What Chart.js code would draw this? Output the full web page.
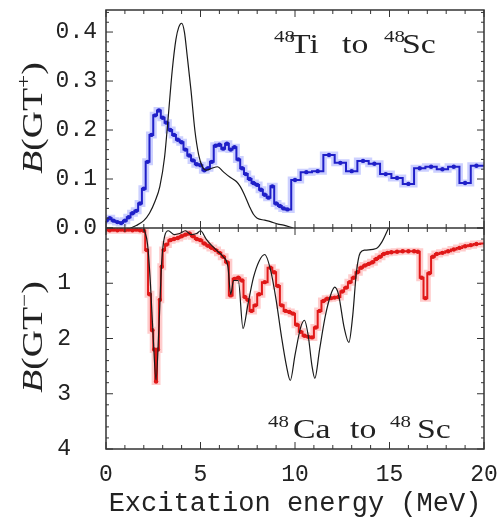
<!DOCTYPE html>
<html>
<head>
<meta charset="utf-8">
<script src="https://cdn.jsdelivr.net/npm/chart.js@4"></script>
<style>
  html, body { margin: 0; padding: 0; background: #fff; }
  #myChart { display: block; }
</style>
</head>
<body>
<canvas id="myChart" width="504" height="522"></canvas>
<script>
'use strict';

// 48Ti -> 48Sc, B(GT+) (blue histogram)
let blueE = [0, 0.2, 0.4, 0.6, 0.8, 1.0, 1.2, 1.4, 1.6, 1.8, 2.0, 2.2, 2.4, 2.6, 2.8, 3.0, 3.2, 3.4, 3.6, 3.8,
  4.0, 4.2, 4.4, 4.6, 4.8, 5.0, 5.2, 5.4, 5.6, 5.8, 6.0, 6.2, 6.4, 6.6, 6.8, 7.0, 7.2, 7.4, 7.6, 7.8,
  8.0, 8.2, 8.4, 8.6, 8.8, 9.0, 9.2, 9.4, 9.6,
  10.0, 10.6, 11.2, 11.8, 12.4, 13.0, 13.6, 14.2, 14.8, 15.4, 16.0, 16.6, 17.2, 17.8, 18.4, 19.0, 19.6, 20.0];
let blueB = [0.015, 0.02, 0.015, 0.012, 0.01, 0.015, 0.022, 0.03, 0.035, 0.05, 0.08, 0.135, 0.19, 0.23, 0.24, 0.225, 0.215, 0.2, 0.19, 0.18,
  0.175, 0.16, 0.148, 0.138, 0.13, 0.128, 0.118, 0.122, 0.135, 0.168, 0.17, 0.162, 0.172, 0.16, 0.165, 0.14, 0.122, 0.11, 0.1, 0.092,
  0.088, 0.078, 0.068, 0.062, 0.085, 0.05, 0.045, 0.04, 0.038,
  0.098, 0.114, 0.116, 0.149, 0.133, 0.116, 0.137, 0.131, 0.11, 0.102, 0.09, 0.122, 0.125, 0.12, 0.125, 0.092, 0.127, 0.127];

// shell model curve, top panel
let calcTopE = [1.3, 1.6, 2.0, 2.3, 2.6, 2.85, 3.1, 3.3, 3.5, 3.7, 3.85, 4.0, 4.15, 4.3, 4.5, 4.7, 4.9, 5.1, 5.3, 5.6,
  5.9, 6.2, 6.55, 6.9, 7.1, 7.3, 7.6, 7.8, 8.0, 8.4, 8.7, 9.1, 9.4, 9.9];
let calcTopB = [0, 0.005, 0.015, 0.03, 0.055, 0.085, 0.145, 0.23, 0.32, 0.385, 0.41, 0.418, 0.4, 0.35, 0.28, 0.2, 0.15, 0.125, 0.118, 0.122,
  0.125, 0.115, 0.104, 0.095, 0.085, 0.07, 0.043, 0.028, 0.02, 0.016, 0.013, 0.008, 0.006, 0];

// 48Ca -> 48Sc, B(GT-) (red histogram)
let redE = [0, 0.2, 0.4, 0.6, 0.8, 1.0, 1.2, 1.4, 1.6, 1.8, 2.0, 2.15, 2.3, 2.45, 2.55, 2.65, 2.75, 2.85, 2.95, 3.05,
  3.2, 3.4, 3.6, 3.8, 4.0, 4.2, 4.4, 4.6, 4.8, 5.0, 5.2, 5.4, 5.6, 5.8, 6.0, 6.2, 6.4, 6.6, 6.8, 7.0,
  7.2, 7.35, 7.5, 7.7, 7.9, 8.1, 8.4, 8.7, 8.9, 9.1, 9.3, 9.5, 9.7, 9.9, 10.1, 10.3, 10.5, 10.7, 10.9, 11.1,
  11.3, 11.5, 11.7, 11.9, 12.1, 12.3, 12.5, 12.7, 12.9, 13.1, 13.3, 13.5, 13.7, 13.9, 14.1, 14.3, 14.5, 14.7, 14.9, 15.1,
  15.4, 15.7, 16.0, 16.3, 16.5, 16.7, 16.9, 17.1, 17.3, 17.5, 17.8, 18.1, 18.4, 18.7, 19.0, 19.3, 19.6, 20.0];
let redB = [0.03, 0.04, 0.03, 0.04, 0.03, 0.04, 0.03, 0.04, 0.03, 0.04, 0.05, 0.4, 1.2, 1.85, 2.2, 2.78, 2.2, 1.3, 0.7, 0.4,
  0.3, 0.22, 0.2, 0.18, 0.15, 0.12, 0.1, 0.15, 0.2, 0.22, 0.28, 0.32, 0.36, 0.4, 0.45, 0.52, 0.62, 1.22, 0.92, 0.9,
  0.95, 1.25, 1.3, 1.5, 1.4, 1.2, 0.98, 0.72, 0.8, 1.05, 1.4, 1.5, 1.52, 1.55, 1.75, 1.88, 1.95, 1.97, 1.98, 1.8,
  1.5, 1.32, 1.28, 1.27, 1.26, 1.25, 1.15, 1.08, 0.98, 0.9, 0.8, 0.72, 0.68, 0.65, 0.62, 0.56, 0.52, 0.47, 0.45, 0.44,
  0.43, 0.42, 0.42, 0.42, 0.43, 0.9, 1.27, 0.82, 0.52, 0.47, 0.45, 0.42, 0.39, 0.36, 0.33, 0.31, 0.29, 0.28];

// shell model curve, bottom panel (runs a little past the zero line at the end)
let calcBotE = [2.0, 2.2, 2.35, 2.5, 2.65, 2.8, 2.95, 3.1, 3.3, 3.6, 3.9, 4.2, 4.5, 4.8, 5.0, 5.3, 5.6, 5.9, 6.2, 6.45,
  6.6, 6.75, 7.0, 7.25, 7.5, 7.8, 8.1, 8.4, 8.7, 9.0, 9.3, 9.55, 9.75, 10.0, 10.3, 10.5, 10.7, 10.9, 11.05, 11.3,
  11.6, 11.9, 12.1, 12.3, 12.6, 12.85, 13.05, 13.25, 13.45, 13.7, 14.3, 14.6, 14.95, 15.2];
let calcBotB = [0, 0.3, 1.0, 2.0, 2.75, 1.8, 0.6, 0.15, 0.05, 0.12, 0.1, 0.05, 0.12, 0.1, 0.05, 0.2, 0.32, 0.42, 0.52, 0.7,
  1.2, 0.95, 0.95, 1.82, 1.4, 0.9, 0.6, 0.48, 0.75, 1.3, 2.0, 2.5, 2.76, 2.3, 1.8, 1.67, 1.95, 2.5, 2.72, 2.2,
  1.6, 1.2, 1.07, 1.2, 1.8, 2.07, 1.6, 0.8, 0.45, 0.4, 0.37, 0.25, 0, -0.18];

let xTicks = [0, 5, 10, 15, 20];
let topTicks = [0.0, 0.1, 0.2, 0.3, 0.4];
let botTicks = [1, 2, 3, 4];

function pts(xs, ys) {
  let out = [];
  for (let i = 0; i < xs.length; i++) {
    out.push({ x: xs[i], y: ys[i] });
  }
  return out;
}

let monoFont = 'Liberation Mono';
let serifFont = 'Liberation Serif';

// draw a run of text pieces: [text, style] where style is 'i' italic, 's' superscript
function drawRuns(ctx, runs, x, y, size) {
  let cx = x;
  for (let i = 0; i < runs.length; i++) {
    let t = runs[i][0];
    let st = runs[i][1];
    let fs = st === 's' ? size * 0.62 : size;
    ctx.font = (st === 'i' ? 'italic ' : '') + fs + 'px "' + serifFont + '"';
    ctx.fillText(t, cx, st === 's' ? y - size * 0.4 : y);
    cx += ctx.measureText(t).width;
  }
  return cx - x;
}
function runsWidth(ctx, runs, size) {
  let w = 0;
  for (let i = 0; i < runs.length; i++) {
    let fs = runs[i][1] === 's' ? size * 0.62 : size;
    ctx.font = (runs[i][1] === 'i' ? 'italic ' : '') + fs + 'px "' + serifFont + '"';
    w += ctx.measureText(runs[i][0]).width;
  }
  return w;
}

// scales should not push the plot area around
function fixY(s) {
  s.width = 106;
  s.paddingTop = 0;
  s.paddingBottom = 0;
}

const frameTicks = {
  id: 'frameTicks',
  afterDatasetsDraw(chart) {
    const ctx = chart.ctx;
    const a = chart.chartArea;
    const xs = chart.scales.x;
    const yt = chart.scales.yTop;
    const yb = chart.scales.yBot;
    const mid = yb.top;
    ctx.save();
    ctx.strokeStyle = '#333';
    ctx.lineWidth = 1;
    ctx.beginPath();
    for (let v = 0; v <= 20; v++) {
      const px = xs.getPixelForValue(v);
      const len = v % 5 === 0 ? 7 : 4;
      ctx.moveTo(px, a.top); ctx.lineTo(px, a.top + len);
      ctx.moveTo(px, mid - len); ctx.lineTo(px, mid + len);
      ctx.moveTo(px, a.bottom); ctx.lineTo(px, a.bottom - len);
    }
    for (let k = 0; k <= 22; k++) {
      const py = yt.getPixelForValue(k * 0.02);
      const len = k % 5 === 0 ? 7 : 3;
      ctx.moveTo(a.left, py); ctx.lineTo(a.left + len, py);
      ctx.moveTo(a.right, py); ctx.lineTo(a.right - len, py);
    }
    for (let k = 0; k <= 20; k++) {
      const py = yb.getPixelForValue(k * 0.2);
      const len = k % 5 === 0 ? 7 : 3;
      ctx.moveTo(a.left, py); ctx.lineTo(a.left + len, py);
      ctx.moveTo(a.right, py); ctx.lineTo(a.right - len, py);
    }
    ctx.stroke();
    ctx.lineWidth = 1.5;
    ctx.strokeRect(a.left, a.top, a.right - a.left, a.bottom - a.top);
    ctx.beginPath();
    ctx.moveTo(a.left, mid); ctx.lineTo(a.right, mid);
    ctx.stroke();

    // axis titles, wide serif like the original plotting font
    ctx.fillStyle = '#222';
    ctx.textBaseline = 'alphabetic';
    const size = 29;
    const stretch = 1.3;
    const titles = [
      [[['B', 'i'], ['(GT', ''], ['+', 's'], [')', '']], 118],
      [[['B', 'i'], ['(GT', ''], ['\u2212', 's'], [')', '']], 337]
    ];
    titles.forEach(function (tt) {
      const w = runsWidth(ctx, tt[0], size) * stretch;
      ctx.save();
      ctx.translate(42, tt[1]);
      ctx.rotate(-Math.PI / 2);
      ctx.translate(-w / 2, 0);
      ctx.scale(stretch, 1);
      drawRuns(ctx, tt[0], 0, 0, size);
      ctx.restore();
    });

    // reaction labels
    const lsize = 27;
    const labels = [
      [[['48', 's', 274], ['Ti', '', 290], ['to', '', 342], ['48', 's', 384], ['Sc', '', 402]], 53],
      [[['48', 's', 268], ['Ca', '', 293], ['to', '', 350], ['48', 's', 390], ['Sc', '', 417]], 438]
    ];
    labels.forEach(function (lb) {
      lb[0].forEach(function (p) {
        ctx.save();
        ctx.translate(p[2], lb[1]);
        ctx.scale(1.25, 1);
        drawRuns(ctx, [[p[0], p[1]]], 0, 0, lsize);
        ctx.restore();
      });
    });
    ctx.restore();
  }
};

const ctx = document.getElementById('myChart').getContext('2d');
const tickFont = { family: monoFont, size: 23 };

const myChart = new Chart(ctx, {
  type: 'line',
  data: {
    datasets: [
      {
        label: 'calc GT+',
        data: pts(calcTopE, calcTopB),
        yAxisID: 'yTop',
        borderColor: '#1a1a1a',
        borderWidth: 1.2,
        pointRadius: 0,
        cubicInterpolationMode: 'monotone',
        order: 0
      },
      {
        label: 'calc GT-',
        data: pts(calcBotE, calcBotB),
        yAxisID: 'yBot',
        borderColor: '#1a1a1a',
        borderWidth: 1.2,
        pointRadius: 0,
        cubicInterpolationMode: 'monotone',
        order: 0
      },
      {
        label: '48Ti',
        data: pts(blueE, blueB),
        yAxisID: 'yTop',
        borderColor: '#1f1fc8',
        backgroundColor: '#1f1fc8',
        borderWidth: 2,
        stepped: 'middle',
        pointRadius: function (c) { return c.raw && c.raw.x >= 20 ? 0 : 2.2; },
        pointBorderWidth: 0,
        order: 1
      },
      {
        label: '48Ca',
        data: pts(redE, redB),
        yAxisID: 'yBot',
        borderColor: '#e01818',
        backgroundColor: '#e01818',
        borderWidth: 2,
        stepped: 'middle',
        pointRadius: function (c) { return c.raw && c.raw.x >= 20 ? 0 : 2.2; },
        pointBorderWidth: 0,
        order: 1
      },
      {
        label: 'halo blue',
        data: pts(blueE, blueB),
        yAxisID: 'yTop',
        borderColor: 'rgba(110, 120, 255, 0.35)',
        borderWidth: 7,
        stepped: 'middle',
        pointRadius: 0,
        order: 2
      },
      {
        label: 'halo red',
        data: pts(redE, redB),
        yAxisID: 'yBot',
        borderColor: 'rgba(255, 110, 110, 0.35)',
        borderWidth: 7,
        stepped: 'middle',
        pointRadius: 0,
        order: 2
      }
    ]
  },
  options: {
    responsive: false,
    animation: false,
    layout: { autoPadding: false, padding: { top: 10, right: 20, left: 0, bottom: 0 } },
    plugins: {
      legend: { display: false },
      tooltip: { enabled: false }
    },
    scales: {
      x: {
        type: 'linear',
        min: 0,
        max: 20,
        afterBuildTicks: function (s) { s.ticks = xTicks.map(v => ({ value: v })); },
        ticks: { font: tickFont, color: '#222', padding: 12, maxRotation: 0 },
        grid: { display: false, drawTicks: false },
        border: { display: false },
        title: {
          display: true,
          text: 'Excitation energy (MeV)',
          font: { family: monoFont, size: 27 },
          color: '#222',
          padding: { top: 0, bottom: 2 }
        },
        afterFit: function (s) { s.height = 73; s.paddingLeft = 0; s.paddingRight = 0; }
      },
      yTop: {
        type: 'linear',
        position: 'left',
        stack: 'panels',
        stackWeight: 218,
        weight: 1,
        min: 0,
        max: 0.445,
        afterBuildTicks: function (s) { s.ticks = topTicks.map(v => ({ value: v })); },
        ticks: { font: tickFont, color: '#222', padding: 9, callback: v => v.toFixed(1) },
        grid: { display: false, drawTicks: false },
        border: { display: false },
        afterFit: fixY
      },
      yBot: {
        type: 'linear',
        position: 'left',
        stack: 'panels',
        stackWeight: 221,
        weight: 0,
        reverse: true,
        min: 0,
        max: 4,
        afterBuildTicks: function (s) { s.ticks = botTicks.map(v => ({ value: v })); },
        ticks: { font: tickFont, color: '#222', padding: 35, callback: v => String(v) },
        grid: { display: false, drawTicks: false },
        border: { display: false },
        afterFit: fixY
      }
    }
  },
  plugins: [frameTicks]
});
</script>
</body>
</html>
